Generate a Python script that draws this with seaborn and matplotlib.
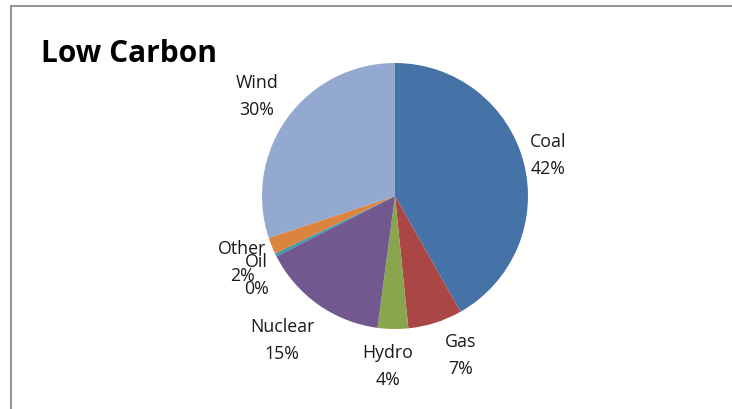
import numpy as np
import matplotlib
matplotlib.use("Agg")
import matplotlib.pyplot as plt
from matplotlib.lines import Line2D
import seaborn as sns

# Generation mix shares (%)
sources = ["Coal", "Gas", "Hydro", "Nuclear", "Oil", "Other", "Wind"]
shares = [41.8, 6.6, 3.7, 15.4, 0.4, 2.0, 30.1]
share_labels = ["42%", "7%", "4%", "15%", "0%", "2%", "30%"]
colors = ["#4572A7", "#AA4643", "#89A54E", "#71588F", "#4198AF", "#DB843D", "#93A9CF"]
label_radius = [1.19, 1.30, 1.28, 1.38, 1.20, 1.25, 1.28]
label_angle_shift = [0, 4.7, -1.5, -2.7, 3.7, 1.5, 0]

sns.set_theme(style="white")
plt.rcParams["font.family"] = ["Open Sans", "DejaVu Sans"]

fig = plt.figure(figsize=(7.32, 4.09), dpi=100)
ax = fig.add_axes([0, 0, 1, 1])

wedges, _ = ax.pie(shares, colors=colors, startangle=90, counterclock=False,
                   radius=1.0, wedgeprops=dict(linewidth=0))

for w, name, lab, r, shift in zip(wedges, sources, share_labels, label_radius, label_angle_shift):
    mid = np.deg2rad((w.theta1 + w.theta2) / 2 + shift)
    ax.text(r * np.cos(mid), r * np.sin(mid), f"{name}\n{lab}",
            ha="center", va="center", fontsize=12.8, color="#1a1a1a",
            linespacing=1.65)

ax.set_xlim(-395 / 133, (732 - 395) / 133)
ax.set_ylim(-213 / 133, 196 / 133)
ax.set_aspect("auto")
ax.axis("off")

fig.text(41 / 732, 1 - 62 / 409, "Low Carbon", fontsize=21.5, fontweight="bold",
         ha="left", va="baseline", color="black")

# chart-area frame (top and left edges)
fig.add_artist(Line2D([11 / 732, 1], [1 - 5.5 / 409, 1 - 5.5 / 409],
                      color="#8a8a8a", linewidth=1.3))
fig.add_artist(Line2D([11 / 732, 11 / 732], [0, 1 - 5.5 / 409],
                      color="#8a8a8a", linewidth=1.3))

fig.savefig("out.png", dpi=100)
